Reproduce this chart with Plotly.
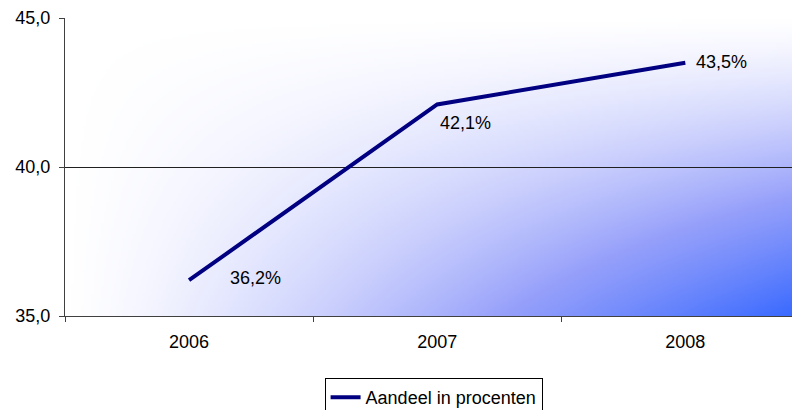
import base64
import struct
import zlib

import plotly.graph_objects as go

# data
years = ['2006', '2007', '2008']
aandeel = [36.2, 42.1, 43.5]
labels = ['36,2%', '42,1%', '43,5%']
series_name = 'Aandeel in procenten'

# label offsets in px (style only)
label_dx = [39, 1, 9]
label_dy = [2, -19, 1]

NAVY = '#000080'
FONT = 'Liberation Sans, Arial, sans-serif'

# background gradient colour stops (white -> lavender -> blue)
BG_STOPS = [(0.0, (255, 255, 255)), (0.5, (150, 160, 250)), (1.0, (51, 102, 255))]


def mix(f):
    for (f0, c0), (f1, c1) in zip(BG_STOPS[:-1], BG_STOPS[1:]):
        if f <= f1:
            k = (f - f0) / (f1 - f0)
            return tuple(int(round(a + (b - a) * k)) for a, b in zip(c0, c1))
    return BG_STOPS[-1][1]


def gradient_png(w, h, power=1.3):
    """Corner gradient (white top-left -> blue bottom-right) as a png data uri."""
    rows = []
    for j in range(h):
        v = (j + 0.5) / h
        row = bytearray(b'\x00')
        for i in range(w):
            u = (i + 0.5) / w
            row += bytes(mix((u * v) ** power))
        rows.append(bytes(row))
    raw = b''.join(rows)

    def chunk(tag, data):
        return (struct.pack('>I', len(data)) + tag + data
                + struct.pack('>I', zlib.crc32(tag + data) & 0xffffffff))

    png = (b'\x89PNG\r\n\x1a\n'
           + chunk(b'IHDR', struct.pack('>IIBBBBB', w, h, 8, 2, 0, 0, 0))
           + chunk(b'IDAT', zlib.compress(raw, 9))
           + chunk(b'IEND', b''))
    return 'data:image/png;base64,' + base64.b64encode(png).decode()


fig = go.Figure()
fig.add_trace(go.Scatter(
    x=years, y=aandeel, mode='lines', name=series_name,
    line=dict(color=NAVY, width=4),
    hoverinfo='skip',
))

for i, (val, txt, dx, dy) in enumerate(zip(aandeel, labels, label_dx, label_dy)):
    fig.add_annotation(x=i, y=val, xref='x', yref='y', text=txt, showarrow=False,
                       xanchor='left', yanchor='middle',
                       xshift=dx, yshift=dy,
                       font=dict(family=FONT, size=18, color='black'))

fig.add_layout_image(dict(
    source=gradient_png(300, 120),
    xref='x', yref='y', x=-0.5, y=45, sizex=3, sizey=10,
    xanchor='left', yanchor='top', sizing='stretch', layer='below',
))

fig.update_layout(
    width=792, height=410,
    margin=dict(l=65, r=0, t=18, b=94, autoexpand=False),
    paper_bgcolor='white', plot_bgcolor='white',
    separators=', ',
    font=dict(family=FONT, size=18, color='black'),
    showlegend=True,
    legend=dict(orientation='h', x=0.507, xanchor='center',
                y=-0.208, yanchor='top',
                bordercolor='black', borderwidth=1,
                bgcolor='white', font=dict(size=18)),
    xaxis=dict(type='category', categoryorder='array', categoryarray=years,
               range=[-0.5, 2.43], tickson='boundaries',
               ticks='outside', ticklen=5, tickcolor='#404040',
               showline=True, linecolor='#404040', linewidth=1,
               showgrid=False, ticklabelstandoff=9, automargin=False),
    yaxis=dict(range=[35, 45], dtick=5, tickformat='.1f',
               ticks='outside', ticklen=5, tickcolor='#404040',
               showline=True, linecolor='#404040', linewidth=1,
               showgrid=True, gridcolor='#202020', gridwidth=1,
               zeroline=False, ticklabelstandoff=5, automargin=False),
)

# page body has a default 8px margin; drop it so the chart sits at 0,0
fig.write_html('out.html', config={'displayModeBar': False},
               post_script="document.body.style.margin='0';")
